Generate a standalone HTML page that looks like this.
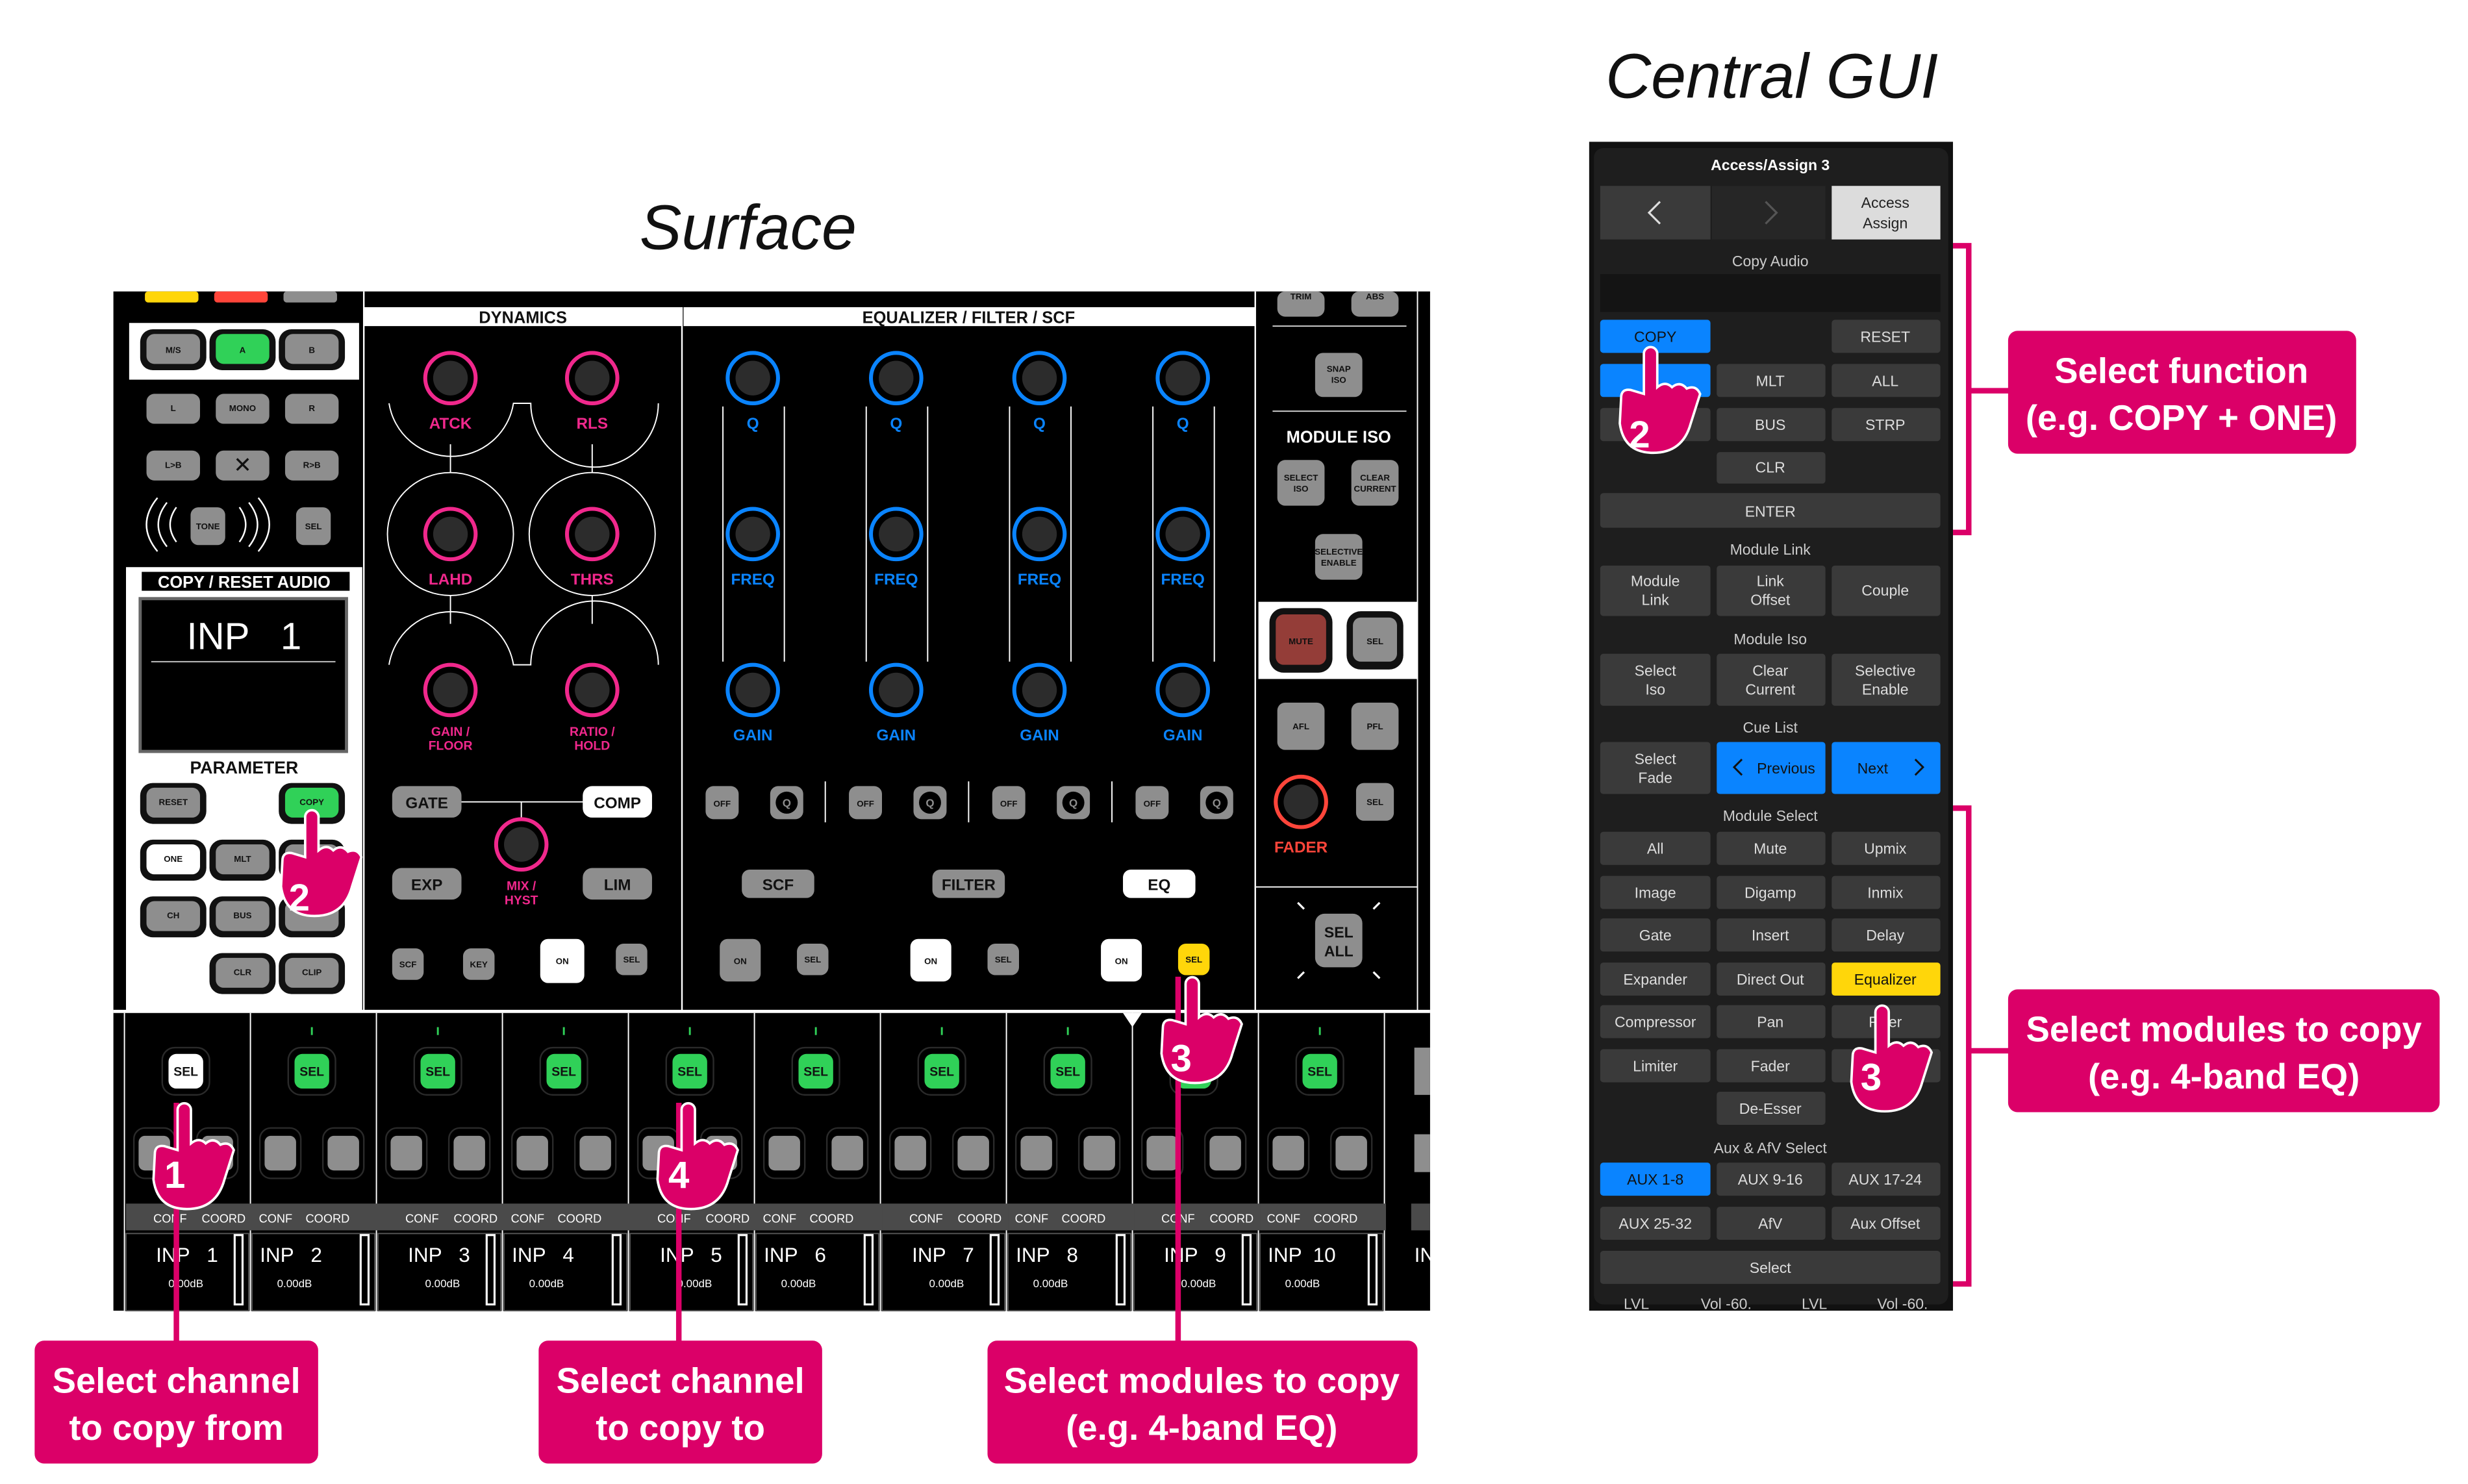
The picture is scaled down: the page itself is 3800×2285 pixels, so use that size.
<!DOCTYPE html>
<html><head><meta charset="utf-8"><style>
html,body{margin:0;padding:0;background:#fff;}
svg{display:block;}
text{font-family:"Liberation Sans",sans-serif;}
.b{font-weight:bold;}
.lbl{font-weight:bold;font-size:5.5px;fill:#111;text-anchor:middle;}
.g{font-size:9.5px;fill:#ddd;text-anchor:middle;}
.gh{font-size:9.5px;fill:#ccc;text-anchor:middle;}
.call{font-weight:bold;font-size:22.5px;fill:#fff;text-anchor:middle;}
.num{font-weight:bold;font-size:24px;fill:#fff;text-anchor:middle;}
</style></head><body>
<svg width="3800" height="2285" viewBox="0 0 1567 942" preserveAspectRatio="none" xmlns="http://www.w3.org/2000/svg">
<defs>
<g id="hand"><path d="M-5,3 a5,5 0 0 1 10,0 L5,28 q6,-5 11,0 q6,-5 11,1 q7,-3 10,4 L30,55 q-6,22 -28,22 q-22,0 -25,-22 L-22,36 q0,-7 7,-6 L-5,33 Z" fill="#db0068" stroke="#fff" stroke-width="1.8"/></g>
<g id="kp"><circle r="16" fill="#000" stroke="#f0288c" stroke-width="2.5"/><circle r="11" fill="#2c2c2c"/></g>
<g id="kb"><circle r="16" fill="#000" stroke="#0a84ff" stroke-width="2.5"/><circle r="11" fill="#2c2c2c"/></g>
<g id="strip">
<rect x="-15" y="665" width="30" height="30" rx="8" fill="#000" stroke="#2a2a2a"/>
<rect x="-33" y="716" width="26" height="32" rx="7" fill="#000" stroke="#2a2a2a"/>
<rect x="7" y="716" width="26" height="32" rx="7" fill="#000" stroke="#2a2a2a"/>
<rect x="-30" y="721" width="20" height="22" rx="4" fill="#8e8e8e"/>
<rect x="10" y="721" width="20" height="22" rx="4" fill="#8e8e8e"/>
<rect x="-38" y="764" width="80" height="17" fill="#4a4a4a"/>
<rect x="-38" y="783" width="78" height="49" fill="#000" stroke="#555" stroke-width="0.8"/>
<rect x="31" y="784" width="5" height="44" fill="none" stroke="#fff" stroke-width="1.3"/>
</g>
</defs>

<rect width="1567" height="942" fill="#fff"/>
<text x="475" y="158" font-size="40" font-style="italic" text-anchor="middle" fill="#111">Surface</text>
<text x="1125" y="62" font-size="40" font-style="italic" text-anchor="middle" fill="#111">Central GUI</text>

<!-- SURFACE -->
<rect x="72" y="185" width="836" height="647" fill="#000"/>
<rect x="92" y="185" width="34" height="7" rx="2" fill="#ffd60a"/>
<rect x="136" y="185" width="34" height="7" rx="2" fill="#ff453a"/>
<rect x="180" y="185" width="34" height="7" rx="2" fill="#8e8e8e"/>
<rect x="82" y="205" width="146" height="36" fill="#fff"/>
<g>
<rect x="89" y="209" width="42" height="26" rx="8" fill="#111"/><rect x="93" y="212" width="34" height="19" rx="5" fill="#8e8e8e"/>
<rect x="133" y="209" width="42" height="26" rx="8" fill="#111"/><rect x="137" y="212" width="34" height="19" rx="5" fill="#30d158"/>
<rect x="177" y="209" width="42" height="26" rx="8" fill="#111"/><rect x="181" y="212" width="34" height="19" rx="5" fill="#8e8e8e"/>
<text class="lbl" x="110" y="224">M/S</text><text class="lbl" x="154" y="224">A</text><text class="lbl" x="198" y="224">B</text>
<rect x="93" y="250" width="34" height="19" rx="5" fill="#8e8e8e"/><rect x="137" y="250" width="34" height="19" rx="5" fill="#8e8e8e"/><rect x="181" y="250" width="34" height="19" rx="5" fill="#8e8e8e"/>
<text class="lbl" x="110" y="261">L</text><text class="lbl" x="154" y="261">MONO</text><text class="lbl" x="198" y="261">R</text>
<rect x="93" y="286" width="34" height="19" rx="5" fill="#8e8e8e"/><rect x="137" y="286" width="34" height="19" rx="5" fill="#8e8e8e"/><rect x="181" y="286" width="34" height="19" rx="5" fill="#8e8e8e"/>
<text class="lbl" x="110" y="297">L&gt;B</text><text x="154" y="300" font-size="14" text-anchor="middle" fill="#111">✕</text><text class="lbl" x="198" y="297">R&gt;B</text>
<rect x="121" y="322" width="22" height="24" rx="5" fill="#8e8e8e"/><text class="lbl" x="132" y="336">TONE</text>
<path d="M112,322 q-8,11 0,22 M106,319 q-11,14 0,28 M100,316 q-14,17 0,34 M152,322 q8,11 0,22 M158,319 q11,14 0,28 M164,316 q14,17 0,34" fill="none" stroke="#fff" stroke-width="1"/>
<rect x="188" y="322" width="22" height="24" rx="5" fill="#8e8e8e"/><text class="lbl" x="199" y="336">SEL</text>
</g>
<rect x="80" y="360" width="150" height="282" fill="#fff"/>
<rect x="90" y="363" width="132" height="12" fill="#000"/>
<text x="155" y="373" font-size="10.5" class="b" text-anchor="middle" fill="#fff">COPY / RESET AUDIO</text>
<rect x="89" y="380" width="131" height="97" fill="#000" stroke="#666" stroke-width="2"/>
<text x="155" y="412" font-size="24" text-anchor="middle" fill="#fff">INP &#160;&#160;1</text>
<line x1="96" y1="420" x2="213" y2="420" stroke="#ccc" stroke-width="0.8"/>
<text x="155" y="491" font-size="11" class="b" text-anchor="middle" fill="#111">PARAMETER</text>
<g>
<rect x="89" y="497" width="42" height="26" rx="8" fill="#111"/><rect x="93" y="500" width="34" height="19" rx="5" fill="#8e8e8e"/><text class="lbl" x="110" y="511">RESET</text>
<rect x="177" y="497" width="42" height="26" rx="8" fill="#111"/><rect x="181" y="500" width="34" height="19" rx="5" fill="#30d158"/><text class="lbl" x="198" y="511">COPY</text>
<rect x="89" y="533" width="42" height="26" rx="8" fill="#111"/><rect x="93" y="536" width="34" height="19" rx="5" fill="#fff"/><text class="lbl" x="110" y="547">ONE</text>
<rect x="133" y="533" width="42" height="26" rx="8" fill="#111"/><rect x="137" y="536" width="34" height="19" rx="5" fill="#8e8e8e"/><text class="lbl" x="154" y="547">MLT</text>
<rect x="177" y="533" width="42" height="26" rx="8" fill="#111"/><rect x="181" y="536" width="34" height="19" rx="5" fill="#8e8e8e"/>
<rect x="89" y="569" width="42" height="26" rx="8" fill="#111"/><rect x="93" y="572" width="34" height="19" rx="5" fill="#8e8e8e"/><text class="lbl" x="110" y="583">CH</text>
<rect x="133" y="569" width="42" height="26" rx="8" fill="#111"/><rect x="137" y="572" width="34" height="19" rx="5" fill="#8e8e8e"/><text class="lbl" x="154" y="583">BUS</text>
<rect x="177" y="569" width="42" height="26" rx="8" fill="#111"/><rect x="181" y="572" width="34" height="19" rx="5" fill="#8e8e8e"/>
<rect x="133" y="605" width="42" height="26" rx="8" fill="#111"/><rect x="137" y="608" width="34" height="19" rx="5" fill="#8e8e8e"/><text class="lbl" x="154" y="619">CLR</text>
<rect x="177" y="605" width="42" height="26" rx="8" fill="#111"/><rect x="181" y="608" width="34" height="19" rx="5" fill="#8e8e8e"/><text class="lbl" x="198" y="619">CLIP</text>
</g>

<!-- dynamics -->
<rect x="231" y="195" width="202" height="12" fill="#fff"/>
<text x="332" y="205" font-size="10.5" class="b" text-anchor="middle" fill="#111">DYNAMICS</text>
<line x1="433" y1="195" x2="433" y2="642" stroke="#fff" stroke-width="1"/>
<line x1="231" y1="185" x2="231" y2="642" stroke="#fff" stroke-width="1"/>
<g fill="none" stroke="#fff" stroke-width="0.8">
<path d="M247,256 a40,40 0 0 0 79,0 L337,256 a40,40 0 0 0 81,0"/>
<ellipse cx="286" cy="339" rx="40" ry="39"/><ellipse cx="376" cy="339" rx="40" ry="39"/>
<path d="M247,422 a40,40 0 0 1 79,0 L337,422 a40,40 0 0 1 81,0"/>
<line x1="286" y1="282" x2="286" y2="300"/><line x1="376" y1="282" x2="376" y2="300"/>
<line x1="286" y1="378" x2="286" y2="396"/><line x1="376" y1="378" x2="376" y2="396"/>
<line x1="292" y1="509" x2="372" y2="509"/><line x1="331" y1="509" x2="331" y2="520"/>
</g>
<use href="#kp" x="286" y="240"/><use href="#kp" x="376" y="240"/><use href="#kp" x="286" y="339"/><use href="#kp" x="376" y="339"/><use href="#kp" x="286" y="438"/><use href="#kp" x="376" y="438"/><use href="#kp" x="331" y="536"/>
<g class="b" font-size="10" fill="#f0288c" text-anchor="middle">
<text x="286" y="272">ATCK</text><text x="376" y="272">RLS</text><text x="286" y="371">LAHD</text><text x="376" y="371">THRS</text>
<text x="286" y="467" font-size="8">GAIN /</text><text x="286" y="476" font-size="8">FLOOR</text>
<text x="376" y="467" font-size="8">RATIO /</text><text x="376" y="476" font-size="8">HOLD</text>
<text x="331" y="565" font-size="8">MIX /</text><text x="331" y="574" font-size="8">HYST</text>
</g>
<rect x="249" y="499" width="44" height="20" rx="6" fill="#8e8e8e"/><text x="271" y="513" font-size="10" class="b" text-anchor="middle" fill="#111">GATE</text>
<rect x="370" y="499" width="44" height="20" rx="6" fill="#fff"/><text x="392" y="513" font-size="10" class="b" text-anchor="middle" fill="#111">COMP</text>
<rect x="249" y="551" width="44" height="20" rx="6" fill="#8e8e8e"/><text x="271" y="565" font-size="10" class="b" text-anchor="middle" fill="#111">EXP</text>
<rect x="370" y="551" width="44" height="20" rx="6" fill="#8e8e8e"/><text x="392" y="565" font-size="10" class="b" text-anchor="middle" fill="#111">LIM</text>
<rect x="249" y="602" width="20" height="20" rx="5" fill="#8e8e8e"/><text class="lbl" x="259" y="614">SCF</text>
<rect x="294" y="602" width="20" height="20" rx="5" fill="#8e8e8e"/><text class="lbl" x="304" y="614">KEY</text>
<rect x="343" y="596" width="28" height="28" rx="5" fill="#fff"/><text class="lbl" x="357" y="612">ON</text>
<rect x="391" y="599" width="20" height="20" rx="5" fill="#8e8e8e"/><text class="lbl" x="401" y="611">SEL</text>

<!-- EQ -->
<rect x="434" y="195" width="363" height="12" fill="#fff"/>
<text x="615" y="205" font-size="10.5" class="b" text-anchor="middle" fill="#111">EQUALIZER / FILTER / SCF</text>
<line x1="797" y1="185" x2="797" y2="642" stroke="#fff" stroke-width="1"/>
<g stroke="#fff" stroke-width="0.8">
<line x1="459" y1="258" x2="459" y2="420"/><line x1="498" y1="258" x2="498" y2="420"/>
<line x1="550" y1="258" x2="550" y2="420"/><line x1="589" y1="258" x2="589" y2="420"/>
<line x1="641" y1="258" x2="641" y2="420"/><line x1="680" y1="258" x2="680" y2="420"/>
<line x1="732" y1="258" x2="732" y2="420"/><line x1="771" y1="258" x2="771" y2="420"/>
<line x1="524" y1="496" x2="524" y2="522"/><line x1="615" y1="496" x2="615" y2="522"/><line x1="706" y1="496" x2="706" y2="522"/>
</g>
<g>
<use href="#kb" x="478" y="240"/><use href="#kb" x="569" y="240"/><use href="#kb" x="660" y="240"/><use href="#kb" x="751" y="240"/>
<use href="#kb" x="478" y="339"/><use href="#kb" x="569" y="339"/><use href="#kb" x="660" y="339"/><use href="#kb" x="751" y="339"/>
<use href="#kb" x="478" y="438"/><use href="#kb" x="569" y="438"/><use href="#kb" x="660" y="438"/><use href="#kb" x="751" y="438"/>
</g>
<g class="b" font-size="10" fill="#0a84ff" text-anchor="middle">
<text x="478" y="272">Q</text><text x="569" y="272">Q</text><text x="660" y="272">Q</text><text x="751" y="272">Q</text>
<text x="478" y="371">FREQ</text><text x="569" y="371">FREQ</text><text x="660" y="371">FREQ</text><text x="751" y="371">FREQ</text>
<text x="478" y="470">GAIN</text><text x="569" y="470">GAIN</text><text x="660" y="470">GAIN</text><text x="751" y="470">GAIN</text>
</g>
<g>
<rect x="448" y="499" width="21" height="21" rx="5" fill="#8e8e8e"/><rect x="489" y="499" width="21" height="21" rx="5" fill="#8e8e8e"/><circle cx="499.5" cy="509.5" r="7" fill="#000"/>
<rect x="539" y="499" width="21" height="21" rx="5" fill="#8e8e8e"/><rect x="580" y="499" width="21" height="21" rx="5" fill="#8e8e8e"/><circle cx="590.5" cy="509.5" r="7" fill="#000"/>
<rect x="630" y="499" width="21" height="21" rx="5" fill="#8e8e8e"/><rect x="671" y="499" width="21" height="21" rx="5" fill="#8e8e8e"/><circle cx="681.5" cy="509.5" r="7" fill="#000"/>
<rect x="721" y="499" width="21" height="21" rx="5" fill="#8e8e8e"/><rect x="762" y="499" width="21" height="21" rx="5" fill="#8e8e8e"/><circle cx="772.5" cy="509.5" r="7" fill="#000"/>
<text class="lbl" x="458.5" y="512">OFF</text><text class="lbl" x="549.5" y="512">OFF</text><text class="lbl" x="640.5" y="512">OFF</text><text class="lbl" x="731.5" y="512">OFF</text>
<g font-size="7" class="b" fill="#8e8e8e" text-anchor="middle"><text x="499.5" y="512">Q</text><text x="590.5" y="512">Q</text><text x="681.5" y="512">Q</text><text x="772.5" y="512">Q</text></g>
</g>
<rect x="471" y="552" width="46" height="18" rx="5" fill="#8e8e8e"/><text x="494" y="565" font-size="10" class="b" text-anchor="middle" fill="#111">SCF</text>
<rect x="592" y="552" width="46" height="18" rx="5" fill="#8e8e8e"/><text x="615" y="565" font-size="10" class="b" text-anchor="middle" fill="#111">FILTER</text>
<rect x="713" y="552" width="46" height="18" rx="5" fill="#fff"/><text x="736" y="565" font-size="10" class="b" text-anchor="middle" fill="#111">EQ</text>
<rect x="457" y="596" width="26" height="27" rx="5" fill="#8e8e8e"/><text class="lbl" x="470" y="612">ON</text>
<rect x="506" y="599" width="20" height="20" rx="5" fill="#8e8e8e"/><text class="lbl" x="516" y="611">SEL</text>
<rect x="578" y="596" width="26" height="27" rx="5" fill="#fff"/><text class="lbl" x="591" y="612">ON</text>
<rect x="627" y="599" width="20" height="20" rx="5" fill="#8e8e8e"/><text class="lbl" x="637" y="611">SEL</text>
<rect x="699" y="596" width="26" height="27" rx="5" fill="#fff"/><text class="lbl" x="712" y="612">ON</text>
<rect x="748" y="599" width="20" height="20" rx="5" fill="#ffd60a"/><text class="lbl" x="758" y="611">SEL</text>

<!-- right column -->
<rect x="811" y="185" width="30" height="16" rx="5" fill="#8e8e8e"/><rect x="858" y="185" width="30" height="16" rx="5" fill="#8e8e8e"/>
<text class="lbl" x="826" y="190">TRIM</text><text class="lbl" x="873" y="190">ABS</text>
<line x1="808" y1="207" x2="893" y2="207" stroke="#ccc" stroke-width="0.8"/>
<rect x="835" y="224" width="30" height="28" rx="5" fill="#8e8e8e"/><text class="lbl" x="850" y="236">SNAP</text><text class="lbl" x="850" y="243">ISO</text>
<line x1="808" y1="261" x2="893" y2="261" stroke="#ccc" stroke-width="0.8"/>
<text x="850" y="281" font-size="10.5" class="b" text-anchor="middle" fill="#fff">MODULE ISO</text>
<rect x="811" y="292" width="30" height="29" rx="5" fill="#8e8e8e"/><text class="lbl" x="826" y="305">SELECT</text><text class="lbl" x="826" y="312">ISO</text>
<rect x="858" y="292" width="30" height="29" rx="5" fill="#8e8e8e"/><text class="lbl" x="873" y="305">CLEAR</text><text class="lbl" x="873" y="312">CURRENT</text>
<rect x="835" y="339" width="30" height="29" rx="5" fill="#8e8e8e"/><text class="lbl" x="850" y="352">SELECTIVE</text><text class="lbl" x="850" y="359">ENABLE</text>
<rect x="799" y="382" width="101" height="49" fill="#fff"/>
<rect x="806" y="386" width="40" height="41" rx="9" fill="#111"/><rect x="810" y="390" width="32" height="32" rx="5" fill="#943d38"/><text class="lbl" x="826" y="409">MUTE</text>
<rect x="855" y="388" width="36" height="37" rx="9" fill="#111"/><rect x="859" y="392" width="28" height="28" rx="5" fill="#8e8e8e"/><text class="lbl" x="873" y="409">SEL</text>
<rect x="811" y="446" width="30" height="30" rx="5" fill="#8e8e8e"/><text class="lbl" x="826" y="463">AFL</text>
<rect x="858" y="446" width="30" height="30" rx="5" fill="#8e8e8e"/><text class="lbl" x="873" y="463">PFL</text>
<circle cx="826" cy="509" r="16" fill="#000" stroke="#ff453a" stroke-width="2.5"/><circle cx="826" cy="509" r="11" fill="#2c2c2c"/>
<rect x="861" y="497" width="24" height="24" rx="5" fill="#8e8e8e"/><text class="lbl" x="873" y="511">SEL</text>
<text x="826" y="541" font-size="10" class="b" text-anchor="middle" fill="#ff453a">FADER</text>
<line x1="797" y1="563" x2="900" y2="563" stroke="#fff" stroke-width="0.8"/>
<line x1="900" y1="185" x2="900" y2="642" stroke="#fff" stroke-width="0.8"/>
<rect x="835" y="580" width="30" height="34" rx="6" fill="#8e8e8e"/>
<text x="850" y="595" font-size="9.5" class="b" text-anchor="middle" fill="#111">SEL</text><text x="850" y="607" font-size="9.5" class="b" text-anchor="middle" fill="#111">ALL</text>
<g stroke="#fff" stroke-width="1.3"><line x1="824" y1="573" x2="828" y2="577"/><line x1="876" y1="573" x2="872" y2="577"/><line x1="824" y1="621" x2="828" y2="617"/><line x1="876" y1="621" x2="872" y2="617"/></g>

<!-- channel strips -->
<line x1="72" y1="642" x2="908" y2="642" stroke="#fff" stroke-width="2"/>
<g stroke="#fff" stroke-width="0.8">
<line x1="79" y1="643" x2="79" y2="832"/><line x1="159" y1="643" x2="159" y2="832"/><line x1="239" y1="643" x2="239" y2="832"/><line x1="319" y1="643" x2="319" y2="832"/><line x1="399" y1="643" x2="399" y2="832"/><line x1="479" y1="643" x2="479" y2="832"/><line x1="559" y1="643" x2="559" y2="832"/><line x1="639" y1="643" x2="639" y2="832"/><line x1="719" y1="643" x2="719" y2="832"/><line x1="799" y1="643" x2="799" y2="832"/><line x1="879" y1="643" x2="879" y2="832"/>
</g>
<use href="#strip" x="118"/><use href="#strip" x="198"/><use href="#strip" x="278"/><use href="#strip" x="358"/><use href="#strip" x="438"/><use href="#strip" x="518"/><use href="#strip" x="598"/><use href="#strip" x="678"/><use href="#strip" x="758"/><use href="#strip" x="838"/>
<rect x="898" y="665" width="10" height="30" fill="#8e8e8e"/><rect x="898" y="720" width="10" height="24" fill="#8e8e8e"/><rect x="896" y="764" width="12" height="17" fill="#4a4a4a"/>
<rect x="107" y="669" width="22" height="22" rx="5" fill="#fff"/>
<g fill="#30d158"><rect x="187" y="669" width="22" height="22" rx="5"/><rect x="267" y="669" width="22" height="22" rx="5"/><rect x="347" y="669" width="22" height="22" rx="5"/><rect x="427" y="669" width="22" height="22" rx="5"/><rect x="507" y="669" width="22" height="22" rx="5"/><rect x="587" y="669" width="22" height="22" rx="5"/><rect x="667" y="669" width="22" height="22" rx="5"/><rect x="747" y="669" width="22" height="22" rx="5"/><rect x="827" y="669" width="22" height="22" rx="5"/></g>
<g class="b" font-size="8" fill="#111" text-anchor="middle"><text x="118" y="683">SEL</text><text x="198" y="683">SEL</text><text x="278" y="683">SEL</text><text x="358" y="683">SEL</text><text x="438" y="683">SEL</text><text x="518" y="683">SEL</text><text x="598" y="683">SEL</text><text x="678" y="683">SEL</text><text x="758" y="683">SEL</text><text x="838" y="683">SEL</text></g>
<g stroke="#30d158" stroke-width="1.2">
<line x1="198" y1="652" x2="198" y2="657"/><line x1="278" y1="652" x2="278" y2="657"/><line x1="358" y1="652" x2="358" y2="657"/><line x1="438" y1="652" x2="438" y2="657"/><line x1="518" y1="652" x2="518" y2="657"/><line x1="598" y1="652" x2="598" y2="657"/><line x1="678" y1="652" x2="678" y2="657"/><line x1="838" y1="652" x2="838" y2="657"/>
</g>
<g font-size="7.5" fill="#fff" text-anchor="middle">
<text x="108" y="776">CONF</text><text x="142" y="776">COORD</text><text x="175" y="776">CONF</text><text x="208" y="776">COORD</text>
<text x="268" y="776">CONF</text><text x="302" y="776">COORD</text><text x="335" y="776">CONF</text><text x="368" y="776">COORD</text>
<text x="428" y="776">CONF</text><text x="462" y="776">COORD</text><text x="495" y="776">CONF</text><text x="528" y="776">COORD</text>
<text x="588" y="776">CONF</text><text x="622" y="776">COORD</text><text x="655" y="776">CONF</text><text x="688" y="776">COORD</text>
<text x="748" y="776">CONF</text><text x="782" y="776">COORD</text><text x="815" y="776">CONF</text><text x="848" y="776">COORD</text>
</g>
<g font-size="13" fill="#fff">
<text x="99" y="801">INP &#160;&#160;1</text><text x="165" y="801">INP &#160;&#160;2</text><text x="259" y="801">INP &#160;&#160;3</text><text x="325" y="801">INP &#160;&#160;4</text><text x="419" y="801">INP &#160;&#160;5</text><text x="485" y="801">INP &#160;&#160;6</text><text x="579" y="801">INP &#160;&#160;7</text><text x="645" y="801">INP &#160;&#160;8</text><text x="739" y="801">INP &#160;&#160;9</text><text x="805" y="801">INP &#160;10</text><text x="898" y="801">IN</text>
</g>
<g font-size="7" fill="#fff" text-anchor="middle">
<text x="118" y="817">0.00dB</text><text x="187" y="817">0.00dB</text><text x="281" y="817">0.00dB</text><text x="347" y="817">0.00dB</text><text x="441" y="817">0.00dB</text><text x="507" y="817">0.00dB</text><text x="601" y="817">0.00dB</text><text x="667" y="817">0.00dB</text><text x="761" y="817">0.00dB</text><text x="827" y="817">0.00dB</text>
</g>
<path d="M713,643 L725,643 L719,652 Z" fill="#fff"/>

<!-- GUI -->
<rect x="1009" y="90" width="231" height="742" fill="#111"/>
<rect x="1012" y="94" width="225" height="734" rx="6" fill="#1e1e1e"/>
<text x="1124" y="108" font-size="9.5" class="b" text-anchor="middle" fill="#fff">Access/Assign 3</text>
<rect x="1016" y="118" width="70" height="34" fill="#3a3a3a"/><rect x="1087" y="118" width="72" height="34" fill="#262626"/>
<rect x="1163" y="118" width="69" height="34" fill="#dcdcdc"/>
<path d="M1054,128 l-7,7 l7,7" fill="none" stroke="#ddd" stroke-width="1.3"/><path d="M1121,128 l7,7 l-7,7" fill="none" stroke="#555" stroke-width="1.3"/>
<text x="1197" y="132" font-size="9.5" text-anchor="middle" fill="#222">Access</text><text x="1197" y="145" font-size="9.5" text-anchor="middle" fill="#222">Assign</text>
<text class="gh" x="1124" y="169">Copy Audio</text>
<rect x="1016" y="174" width="216" height="24" fill="#141414"/>
<g fill="#3a3a3a">
<rect x="1163" y="203" width="69" height="21" rx="2"/>
<rect x="1090" y="231" width="69" height="21" rx="2"/><rect x="1163" y="231" width="69" height="21" rx="2"/>
<rect x="1016" y="259" width="70" height="21" rx="2"/><rect x="1090" y="259" width="69" height="21" rx="2"/><rect x="1163" y="259" width="69" height="21" rx="2"/>
<rect x="1090" y="287" width="69" height="20" rx="2"/>
<rect x="1016" y="313" width="216" height="22" rx="2"/>
<rect x="1016" y="359" width="70" height="32" rx="2"/><rect x="1090" y="359" width="69" height="32" rx="2"/><rect x="1163" y="359" width="69" height="32" rx="2"/>
<rect x="1016" y="415" width="70" height="33" rx="2"/><rect x="1090" y="415" width="69" height="33" rx="2"/><rect x="1163" y="415" width="69" height="33" rx="2"/>
<rect x="1016" y="471" width="70" height="33" rx="2"/>
<rect x="1016" y="528" width="70" height="21" rx="2"/><rect x="1090" y="528" width="69" height="21" rx="2"/><rect x="1163" y="528" width="69" height="21" rx="2"/>
<rect x="1016" y="556" width="70" height="21" rx="2"/><rect x="1090" y="556" width="69" height="21" rx="2"/><rect x="1163" y="556" width="69" height="21" rx="2"/>
<rect x="1016" y="583" width="70" height="21" rx="2"/><rect x="1090" y="583" width="69" height="21" rx="2"/><rect x="1163" y="583" width="69" height="21" rx="2"/>
<rect x="1016" y="611" width="70" height="21" rx="2"/><rect x="1090" y="611" width="69" height="21" rx="2"/>
<rect x="1016" y="638" width="70" height="21" rx="2"/><rect x="1090" y="638" width="69" height="21" rx="2"/><rect x="1163" y="638" width="69" height="21" rx="2"/>
<rect x="1016" y="666" width="70" height="21" rx="2"/><rect x="1090" y="666" width="69" height="21" rx="2"/><rect x="1163" y="666" width="69" height="21" rx="2"/>
<rect x="1090" y="693" width="69" height="21" rx="2"/>
<rect x="1090" y="738" width="69" height="21" rx="2"/><rect x="1163" y="738" width="69" height="21" rx="2"/>
<rect x="1016" y="766" width="70" height="21" rx="2"/><rect x="1090" y="766" width="69" height="21" rx="2"/><rect x="1163" y="766" width="69" height="21" rx="2"/>
<rect x="1016" y="794" width="216" height="21" rx="2"/>
</g>
<g fill="#0a84ff">
<rect x="1016" y="203" width="70" height="21" rx="2"/><rect x="1016" y="231" width="70" height="21" rx="2"/>
<rect x="1090" y="471" width="69" height="33" rx="2"/><rect x="1163" y="471" width="69" height="33" rx="2"/>
<rect x="1016" y="738" width="70" height="21" rx="2"/>
</g>
<rect x="1163" y="611" width="69" height="21" rx="2" fill="#ffd60a"/>
<g class="g">
<text x="1051" y="217" fill="#111">COPY</text><text x="1197" y="217">RESET</text>
<text x="1124" y="245">MLT</text><text x="1197" y="245">ALL</text>
<text x="1124" y="273">BUS</text><text x="1197" y="273">STRP</text>
<text x="1124" y="300">CLR</text>
<text x="1124" y="328">ENTER</text>
</g>
<text class="gh" x="1124" y="352">Module Link</text>
<g class="g">
<text x="1051" y="372">Module</text><text x="1051" y="384">Link</text>
<text x="1124" y="372">Link</text><text x="1124" y="384">Offset</text>
<text x="1197" y="378">Couple</text>
</g>
<text class="gh" x="1124" y="409">Module Iso</text>
<g class="g">
<text x="1051" y="429">Select</text><text x="1051" y="441">Iso</text>
<text x="1124" y="429">Clear</text><text x="1124" y="441">Current</text>
<text x="1197" y="429">Selective</text><text x="1197" y="441">Enable</text>
</g>
<text class="gh" x="1124" y="465">Cue List</text>
<g class="g">
<text x="1051" y="485">Select</text><text x="1051" y="497">Fade</text>
<text x="1134" y="491" fill="#111">Previous</text><text x="1189" y="491" fill="#111">Next</text>
</g>
<path d="M1106,482 l-5,5 l5,5 M1216,482 l5,5 l-5,5" fill="none" stroke="#111" stroke-width="1.2"/>
<text class="gh" x="1124" y="521">Module Select</text>
<g class="g">
<text x="1051" y="542">All</text><text x="1124" y="542">Mute</text><text x="1197" y="542">Upmix</text>
<text x="1051" y="570">Image</text><text x="1124" y="570">Digamp</text><text x="1197" y="570">Inmix</text>
<text x="1051" y="597">Gate</text><text x="1124" y="597">Insert</text><text x="1197" y="597">Delay</text>
<text x="1051" y="625">Expander</text><text x="1124" y="625">Direct Out</text><text x="1197" y="625" fill="#111">Equalizer</text>
<text x="1051" y="652">Compressor</text><text x="1124" y="652">Pan</text><text x="1197" y="652">Filter</text>
<text x="1051" y="680">Limiter</text><text x="1124" y="680">Fader</text>
<text x="1124" y="707">De-Esser</text>
</g>
<text class="gh" x="1124" y="732">Aux &amp; AfV Select</text>
<g class="g">
<text x="1051" y="752" fill="#111">AUX 1-8</text><text x="1124" y="752">AUX 9-16</text><text x="1197" y="752">AUX 17-24</text>
<text x="1051" y="780">AUX 25-32</text><text x="1124" y="780">AfV</text><text x="1197" y="780">Aux Offset</text>
<text x="1124" y="808">Select</text>
</g>
<g class="gh"><text x="1039" y="831">LVL</text><text x="1096" y="831">Vol -60.</text><text x="1152" y="831">LVL</text><text x="1208" y="831">Vol -60.</text></g>

<!-- brackets -->
<path d="M1240,156 H1250 V338 H1240 M1250,248 H1276" fill="none" stroke="#db0068" stroke-width="3.5"/>
<path d="M1240,513 H1250 V815 H1240 M1250,667 H1276" fill="none" stroke="#db0068" stroke-width="3.5"/>

<!-- connectors -->
<g stroke="#db0068" stroke-width="3.5">
<line x1="112" y1="700" x2="112" y2="852"/><line x1="431" y1="700" x2="431" y2="852"/><line x1="748" y1="620" x2="748" y2="852"/>
</g>

<!-- hands -->
<use href="#hand" transform="translate(117,702) scale(0.85)"/><text class="num" x="111" y="754">1</text>
<use href="#hand" transform="translate(437,702) scale(0.85)"/><text class="num" x="431" y="754">4</text>
<use href="#hand" transform="translate(757,622) scale(0.85)"/><text class="num" x="750" y="680">3</text>
<use href="#hand" transform="translate(198,516) scale(0.85)"/><text class="num" x="190" y="578">2</text>
<use href="#hand" transform="translate(1048,222) scale(0.85)"/><text class="num" x="1041" y="284">2</text>
<use href="#hand" transform="translate(1195,640) scale(0.85)"/><text class="num" x="1188" y="692">3</text>

<!-- callouts -->
<rect x="22" y="851" width="180" height="78" rx="6" fill="#db0068"/>
<text class="call" x="112" y="884">Select channel</text><text class="call" x="112" y="914">to copy from</text>
<rect x="342" y="851" width="180" height="78" rx="6" fill="#db0068"/>
<text class="call" x="432" y="884">Select channel</text><text class="call" x="432" y="914">to copy to</text>
<rect x="627" y="851" width="273" height="78" rx="6" fill="#db0068"/>
<text class="call" x="763" y="884">Select modules to copy</text><text class="call" x="763" y="914">(e.g. 4-band EQ)</text>
<rect x="1275" y="210" width="221" height="78" rx="6" fill="#db0068"/>
<text class="call" x="1385" y="243">Select function</text><text class="call" x="1385" y="273">(e.g. COPY + ONE)</text>
<rect x="1275" y="628" width="274" height="78" rx="6" fill="#db0068"/>
<text class="call" x="1412" y="661">Select modules to copy</text><text class="call" x="1412" y="691">(e.g. 4-band EQ)</text>
</svg>
</body></html>
